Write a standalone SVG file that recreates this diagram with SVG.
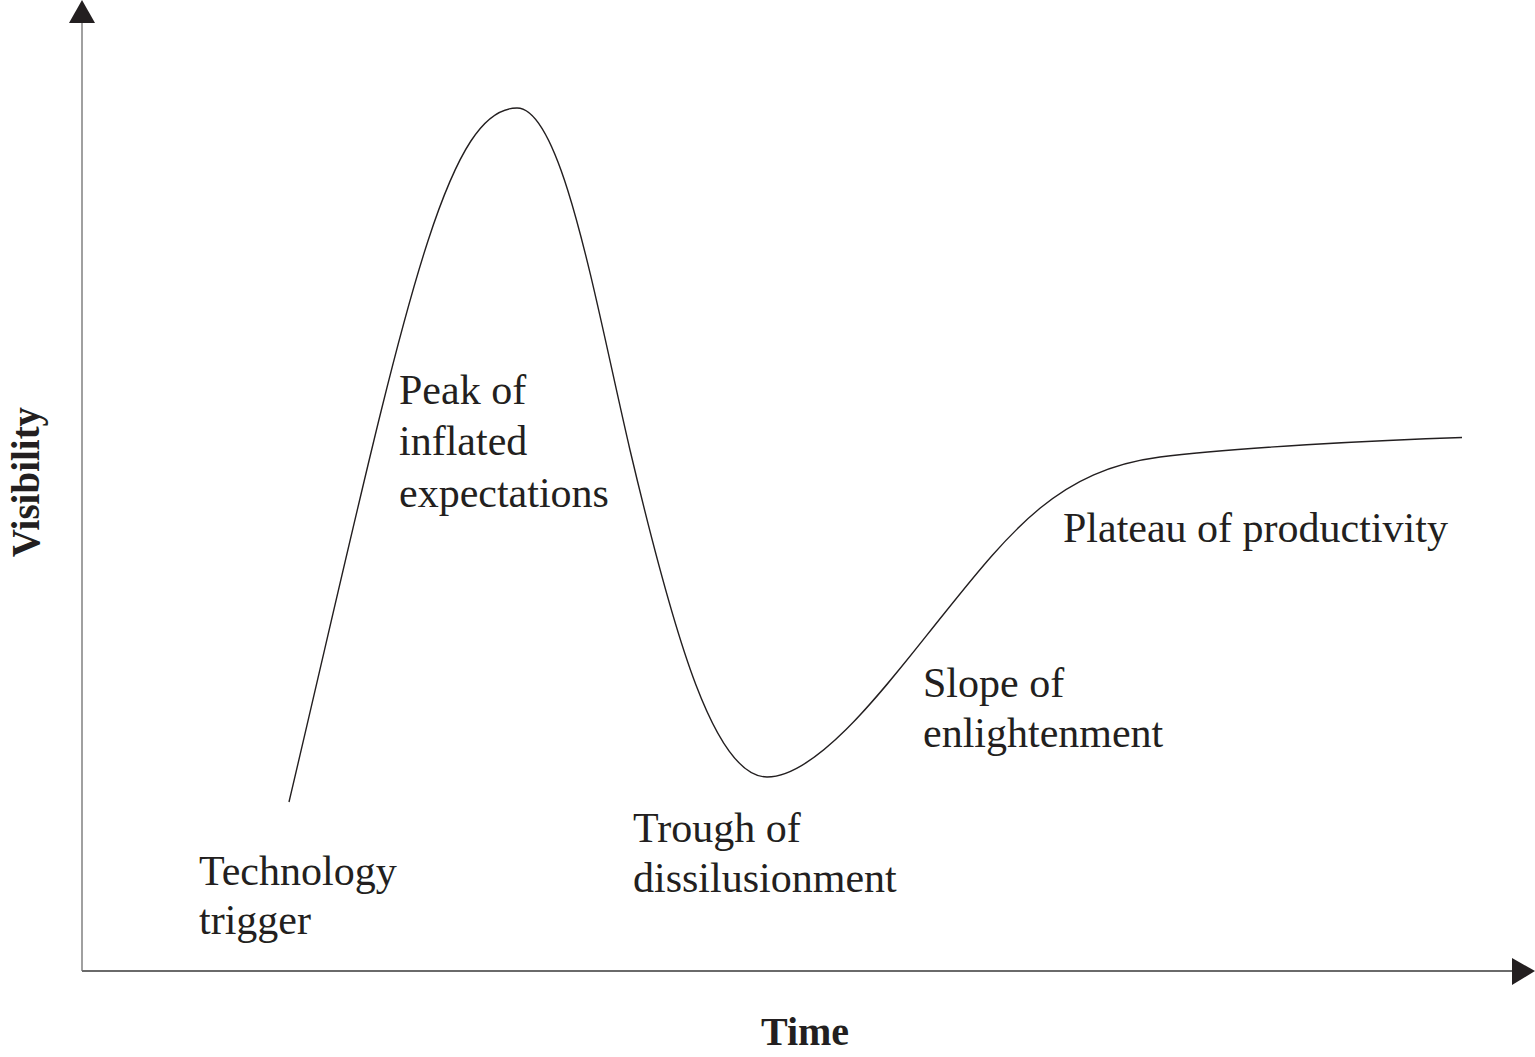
<svg xmlns="http://www.w3.org/2000/svg" width="1535" height="1057" viewBox="0 0 1535 1057">
<style>
.lbl{font-family:"Liberation Serif","Times New Roman",serif;font-size:42px;fill:#231f20}
.ax{font-family:"Liberation Serif","Times New Roman",serif;font-weight:bold;fill:#231f20}
.head{fill:#231f20}
</style>
<rect width="1535" height="1057" fill="#ffffff"/>
<g id="axes">
<line x1="82" y1="20" x2="82" y2="971" stroke="#a0a0a0" stroke-width="2"/>
<polygon class="head" points="82,0 69,23 95,23"/>
<line x1="82" y1="971" x2="1514" y2="971" stroke="#6a6a6a" stroke-width="2"/>
<polygon class="head" points="1535,971 1512,958 1512,985"/>
<text class="ax" font-size="39" text-anchor="middle" transform="translate(39,482) rotate(-90)">Visibility</text>
<text class="ax" font-size="40" text-anchor="middle" x="805" y="1045">Time</text>
</g>
<g id="curve">
<path d="M289,802 C400,330 442,108 517,108 C562,108 595,300 630,450 C675,640 715,777 767,777 C820,777 893,677 943,615 C1013,527.5 1060,470 1160,457 C1230,448 1380,440 1462,437.5" fill="none" stroke="#231f20" stroke-width="1.4"/>
</g>
<g id="label-trigger">
<text class="lbl" x="199" y="885">Technology</text>
<text class="lbl" x="199" y="934">trigger</text>
</g>
<g id="label-peak">
<text class="lbl" x="399" y="404">Peak of</text>
<text class="lbl" x="399" y="455">inflated</text>
<text class="lbl" x="399" y="507">expectations</text>
</g>
<g id="label-trough">
<text class="lbl" x="633" y="842">Trough of</text>
<text class="lbl" x="633" y="892">dissilusionment</text>
</g>
<g id="label-slope">
<text class="lbl" x="923" y="697">Slope of</text>
<text class="lbl" x="923" y="747">enlightenment</text>
</g>
<g id="label-plateau">
<text class="lbl" x="1063" y="542">Plateau of productivity</text>
</g>
</svg>
